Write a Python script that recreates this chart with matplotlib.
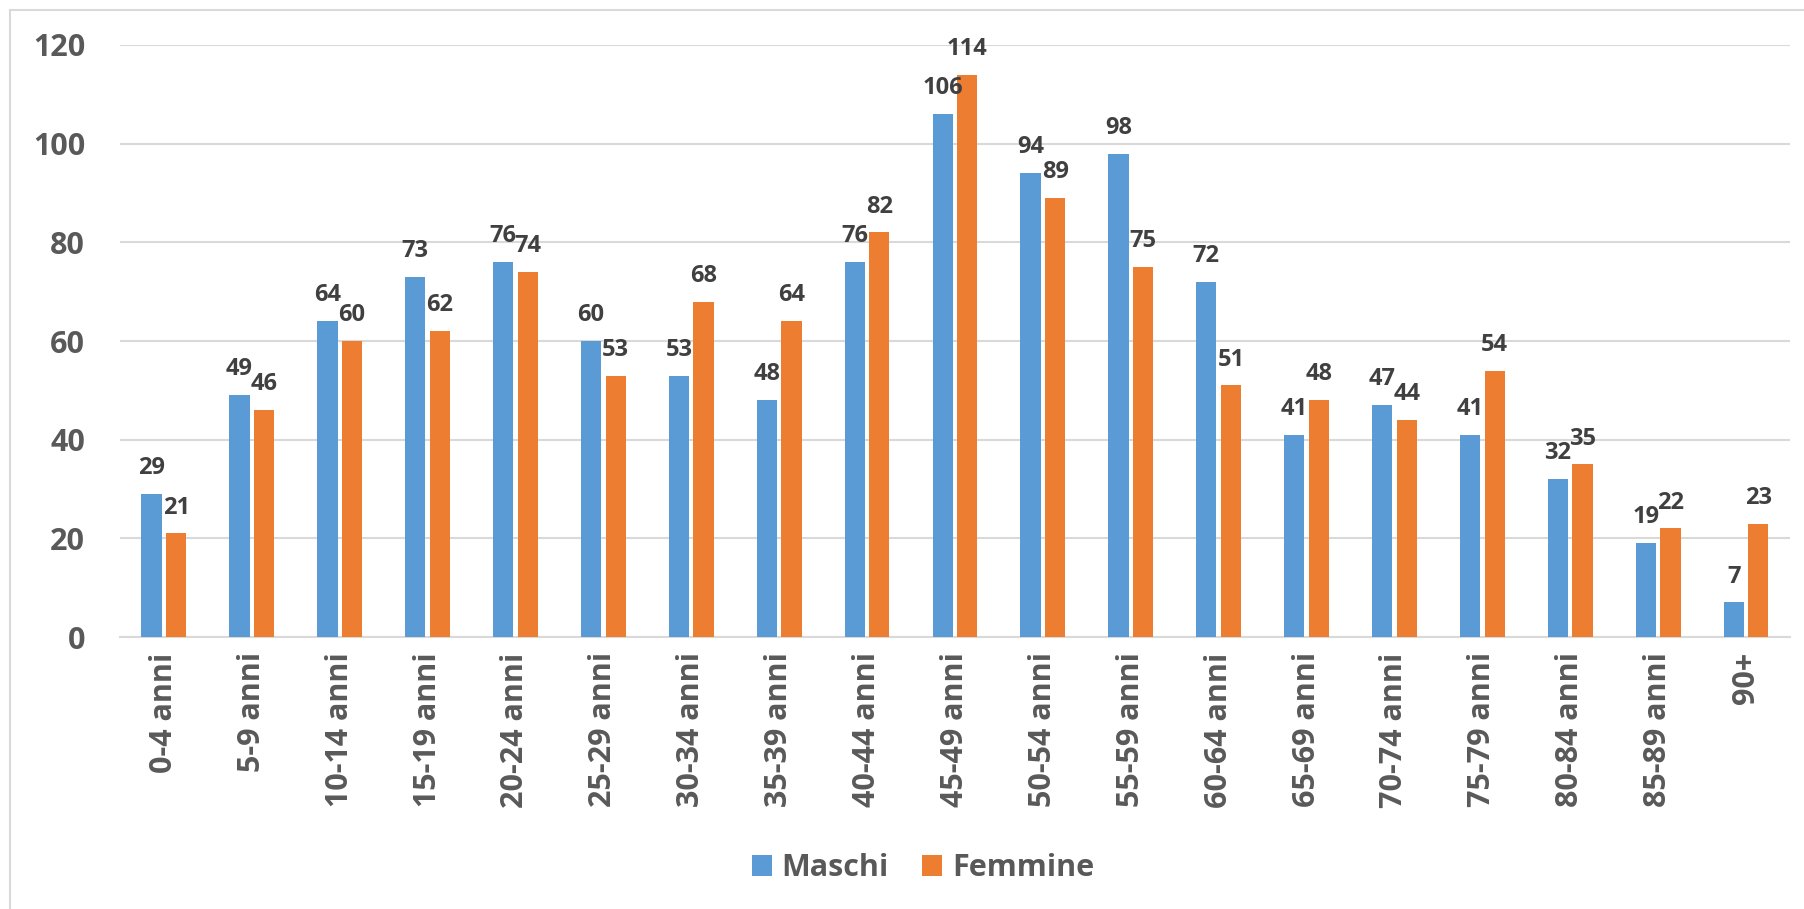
import matplotlib.pyplot as plt
import numpy as np

plt.rcParams['font.family'] = ['Open Sans', 'DejaVu Sans']

categories = ['0-4 anni', '5-9 anni', '10-14 anni', '15-19 anni', '20-24 anni',
              '25-29 anni', '30-34 anni', '35-39 anni', '40-44 anni', '45-49 anni',
              '50-54 anni', '55-59 anni', '60-64 anni', '65-69 anni', '70-74 anni',
              '75-79 anni', '80-84 anni', '85-89 anni', '90+']
maschi = [29, 49, 64, 73, 76, 60, 53, 48, 76, 106, 94, 98, 72, 41, 47, 41, 32, 19, 7]
femmine = [21, 46, 60, 62, 74, 53, 68, 64, 82, 114, 89, 75, 51, 48, 44, 54, 35, 22, 23]

blue = '#5B9BD5'
orange = '#ED7D31'

fig = plt.figure(figsize=(18.04, 9.09), dpi=100)
ax = fig.add_axes([0.0665, 0.2992, 0.9257, 0.6513])

x = np.arange(len(categories))
w = 0.23
off = 0.14
b1 = ax.bar(x - off, maschi, w, color=blue, label='Maschi', zorder=3)
b2 = ax.bar(x + off, femmine, w, color=orange, label='Femmine', zorder=3)

for bars, vals in ((b1, maschi), (b2, femmine)):
    for rect, v in zip(bars, vals):
        ax.text(rect.get_x() + rect.get_width() / 2, v + 2.8, str(v), ha='center', va='bottom',
                fontsize=17, fontweight='bold', color='#404040', zorder=4)

ax.set_xlim(-0.5, len(categories) - 0.5)
ax.set_ylim(0, 120)
ax.set_yticks(range(0, 121, 20))
ax.set_xticks(x)
ax.set_xticklabels(categories, rotation=90)
ax.tick_params(axis='both', length=0, labelsize=22, labelcolor='#595959')
ax.tick_params(axis='x', pad=11)
ax.tick_params(axis='y', pad=25)
for lbl in ax.get_xticklabels() + ax.get_yticklabels():
    lbl.set_fontweight('bold')
ax.yaxis.grid(True, color='#D9D9D9', linewidth=1.5, zorder=0)
for s in ['top', 'right', 'left']:
    ax.spines[s].set_visible(False)
ax.spines['bottom'].set_color('#D9D9D9')
ax.spines['bottom'].set_linewidth(1.5)

leg = fig.legend(loc='center', bbox_to_anchor=(0.5117, 0.045), ncol=2, frameon=False,
                 prop={'size': 22, 'weight': 'bold'}, handlelength=0.65, handleheight=0.65,
                 columnspacing=1.1, handletextpad=0.33)
for t in leg.get_texts():
    t.set_color('#595959')

fig.patches.append(plt.Rectangle((0.0055, -0.02), 1.0, 1.009, transform=fig.transFigure,
                                 fill=False, edgecolor='#D9D9D9', linewidth=1.5))

fig.savefig('out.png', dpi=100)
